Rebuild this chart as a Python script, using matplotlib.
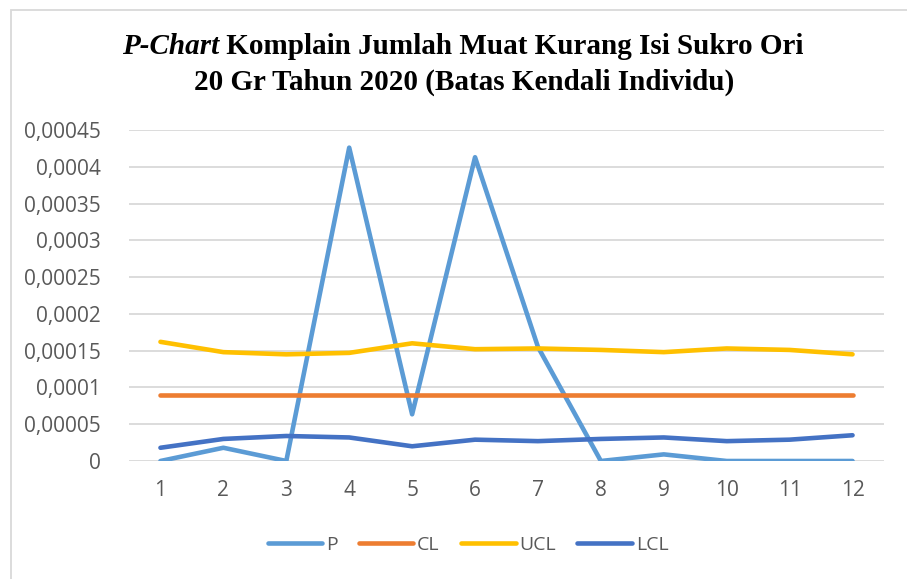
import matplotlib.pyplot as plt
from matplotlib.patches import Rectangle
from matplotlib.ticker import FuncFormatter

periods = [1, 2, 3, 4, 5, 6, 7, 8, 9, 10, 11, 12]
p = [0, 0.000018, 0, 0.000426, 0.0000635, 0.000413, 0.000155, 0, 0.000009, 0, 0, 0]
cl = [0.00009] * 12
ucl = [0.000162, 0.000148, 0.000145, 0.000147, 0.00016, 0.000152, 0.000153, 0.000151,
       0.000148, 0.000153, 0.000151, 0.000145]
lcl = [0.000018, 0.00003, 0.000034, 0.000032, 0.00002, 0.000029, 0.000027, 0.00003,
       0.000032, 0.000027, 0.000029, 0.000035]

fig = plt.figure(figsize=(9.07, 5.79), dpi=100)
W, H = 907, 579
ax = fig.add_axes([129 / W, (H - 461) / H, (884 - 129) / W, (461 - 130) / H])

lw = 3.3
ax.plot(periods, p, color='#5B9BD5', lw=lw, label='P', solid_joinstyle='round', solid_capstyle='round')
ax.plot(periods, cl, color='#ED7D31', lw=lw, label='CL', solid_capstyle='round')
ax.plot(periods, ucl, color='#FFC000', lw=lw, label='UCL', solid_joinstyle='round', solid_capstyle='round')
ax.plot(periods, lcl, color='#4472C4', lw=lw, label='LCL', solid_joinstyle='round', solid_capstyle='round')

ax.set_xlim(0.5, 12.5)
ax.set_ylim(0, 0.00045)
ax.set_xticks(periods)
ax.set_yticks([i * 0.00005 for i in range(10)])


def fmt(v, pos):
    if abs(v) < 1e-12:
        return '0'
    return f'{v:.5f}'.rstrip('0').replace('.', ',')


ax.yaxis.set_major_formatter(FuncFormatter(fmt))
ax.tick_params(axis='both', length=0, labelsize=15, labelcolor='#595959')
ax.tick_params(axis='y', pad=20)
ax.tick_params(axis='x', pad=14)
for lab in ax.get_xticklabels() + ax.get_yticklabels():
    lab.set_family('Open Sans')
ax.grid(axis='y', color='#D9D9D9', lw=1.3)
ax.set_axisbelow(True)
for s in ax.spines.values():
    s.set_visible(False)

# title: first line mixes italic and bold, centred as a whole
tfs = 21
fig.canvas.draw()
r = fig.canvas.get_renderer()
a = fig.text(0, 0.919, 'P-Chart', ha='left', va='center', fontsize=tfs,
             family='Liberation Serif', style='italic', weight='bold')
b = fig.text(0, 0.919, ' Komplain Jumlah Muat Kurang Isi Sukro Ori', ha='left', va='center',
             fontsize=tfs, family='Liberation Serif', weight='bold')
wa = a.get_window_extent(r).width
wb = b.get_window_extent(r).width
x0 = 463 - (wa + wb) / 2
a.set_x(x0 / W)
b.set_x((x0 + wa) / W)
fig.text(464 / W, 0.858, '20 Gr Tahun 2020 (Batas Kendali Individu)', ha='center', va='center',
         fontsize=tfs, family='Liberation Serif', weight='bold')

leg = fig.legend(loc='center', bbox_to_anchor=(468 / W, (H - 545) / H), ncol=4, frameon=False,
                 prop={'family': 'Open Sans', 'size': 14}, handlelength=2.8, columnspacing=1.1,
                 handletextpad=0.2)
for t in leg.get_texts():
    t.set_color('#595959')

fig.add_artist(Rectangle((11 / W, -0.01), 1.0, 1 - 10 / H + 0.01, transform=fig.transFigure,
                         fill=False, edgecolor='#D9D9D9', lw=1.3))

fig.savefig('out.png', dpi=100)
